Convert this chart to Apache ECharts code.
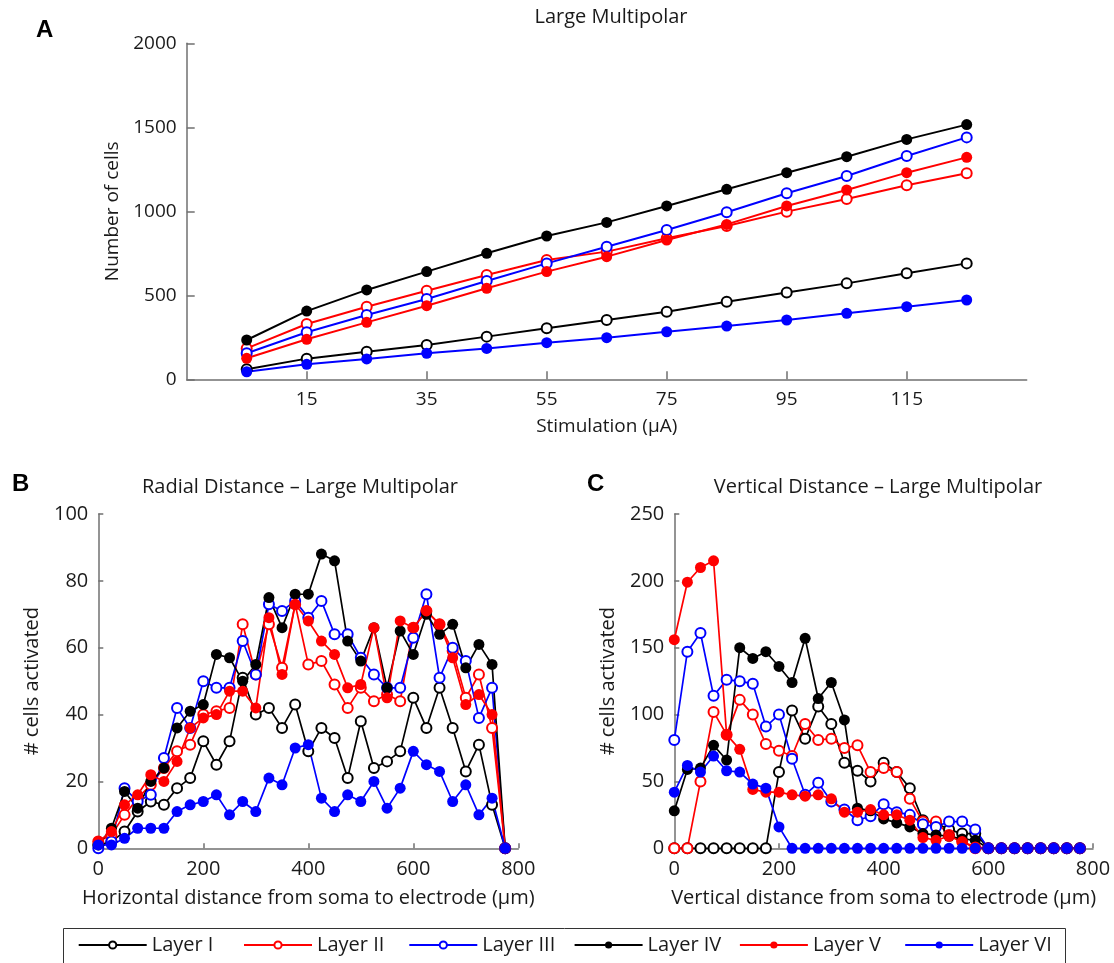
<!DOCTYPE html>
<html>
<head>
<meta charset="utf-8">
<script src="https://cdn.jsdelivr.net/npm/echarts@6/dist/echarts.min.js"></script>
<style>
  html, body { margin: 0; padding: 0; background: #fff; }
  #chart { width: 1114px; height: 963px; }
</style>
</head>
<body>
<div id="chart"></div>
<script>
// Layer names
const layers = ['Layer I', 'Layer II', 'Layer III', 'Layer IV', 'Layer V', 'Layer VI'];

// Panel A: stimulation current (µA) vs number of activated cells
const stimulation = [5, 15, 25, 35, 45, 55, 65, 75, 85, 95, 105, 115, 125];
const stimTicks = [15, 35, 55, 75, 95, 115];
const a_layerI   = [60, 123, 164, 204, 254, 304, 353, 402, 462, 516, 571, 631, 690];
const a_layerII  = [184, 329, 432, 527, 621, 710, 760, 839, 912, 998, 1073, 1155, 1226];
const a_layerIII = [155, 280, 383, 478, 585, 690, 789, 889, 994, 1107, 1210, 1329, 1440];
const a_layerIV  = [234, 406, 532, 641, 750, 853, 934, 1032, 1131, 1230, 1325, 1428, 1516];
const a_layerV   = [125, 238, 339, 438, 542, 641, 730, 829, 922, 1032, 1127, 1230, 1321];
const a_layerVI  = [45, 89, 121, 155, 184, 218, 248, 283, 317, 353, 393, 432, 472];

// Distance bins (µm) shared by panels B and C
const distance = [0, 25, 50, 75, 100, 125, 150, 175, 200, 225, 250, 275, 300, 325, 350, 375,
                  400, 425, 450, 475, 500, 525, 550, 575, 600, 625, 650, 675, 700, 725, 750, 775];

// Panel B: horizontal (radial) distance
const b_layerI   = [1, 2, 5, 11, 14, 13, 18, 21, 32, 25, 32, 51, 40, 42, 36, 43, 29, 36, 33, 21, 38, 24, 26, 29, 45, 36, 48, 36, 23, 31, 13, 0];
const b_layerII  = [2, 4, 10, 15, 19, 24, 29, 31, 40, 41, 42, 67, 52, 67, 54, 73, 55, 56, 49, 42, 48, 44, 46, 44, 66, 71, 67, 59, 45, 52, 36, 0];
const b_layerIII = [0, 2, 18, 14, 16, 27, 42, 36, 50, 48, 48, 62, 52, 73, 71, 74, 69, 74, 64, 64, 57, 52, 48, 48, 63, 76, 51, 60, 56, 39, 48, 0];
const b_layerIV  = [1, 6, 17, 12, 20, 24, 36, 41, 43, 58, 57, 50, 55, 75, 66, 76, 76, 88, 86, 62, 56, 66, 48, 65, 58, 70, 64, 67, 54, 61, 55, 0];
const b_layerV   = [2, 5, 13, 16, 22, 20, 26, 36, 39, 40, 47, 47, 42, 69, 52, 73, 68, 62, 58, 48, 49, 66, 45, 68, 66, 71, 67, 57, 43, 46, 40, 0];
const b_layerVI  = [1, 1, 3, 6, 6, 6, 11, 13, 14, 16, 10, 14, 11, 21, 19, 30, 31, 15, 11, 16, 14, 20, 12, 18, 29, 25, 23, 14, 19, 10, 15, 0];

// Panel C: vertical distance
const c_layerI   = [0, 0, 0, 0, 0, 0, 0, 0, 57, 103, 82, 106, 93, 64, 58, 50, 64, 57, 45, 21, 19, 14, 11, 11, 0, 0, 0, 0, 0, 0, 0, 0];
const c_layerII  = [0, 0, 50, 102, 85, 111, 100, 78, 73, 69, 93, 81, 82, 75, 77, 57, 60, 57, 37, 20, 20, 10, 5, 0, 0, 0, 0, 0, 0, 0, 0, 0];
const c_layerIII = [81, 147, 161, 114, 126, 125, 123, 91, 100, 67, 40, 49, 35, 29, 21, 24, 33, 27, 25, 18, 16, 20, 20, 14, 0, 0, 0, 0, 0, 0, 0, 0];
const c_layerIV  = [28, 59, 60, 77, 66, 150, 142, 147, 136, 124, 157, 112, 124, 96, 30, 28, 22, 19, 16, 11, 10, 9, 7, 6, 0, 0, 0, 0, 0, 0, 0, 0];
const c_layerV   = [156, 199, 210, 215, 85, 74, 44, 42, 42, 40, 39, 40, 37, 27, 27, 29, 25, 25, 21, 8, 6, 9, 5, 1, 0, 0, 0, 0, 0, 0, 0, 0];
const c_layerVI  = [42, 62, 57, 69, 58, 57, 48, 45, 16, 0, 0, 0, 0, 0, 0, 0, 0, 0, 0, 0, 0, 0, 0, 0, 0, 0, 0, 0, 0, 0, 0, 0];

const FONT = '"Open Sans", "Noto Sans", sans-serif';
const AXIS_GRAY = '#707070';
const TEXT = '#1a1a1a';
const colors = ['#000000', '#ff0000', '#0000ff', '#000000', '#ff0000', '#0000ff'];
const filled = [false, false, false, true, true, true];
const plain = v => String(v);

function makeSeries(panel, xs, sets, symSize, lineW) {
  return sets.map((vals, k) => ({
    type: 'line',
    name: layers[k],
    xAxisIndex: panel,
    yAxisIndex: panel,
    data: xs.map((x, i) => [x, vals[i]]),
    symbol: filled[k] ? 'circle' : 'emptyCircle',
    symbolSize: filled[k] ? symSize : symSize - 1,
    showSymbol: true,
    lineStyle: { color: colors[k], width: lineW },
    itemStyle: { color: colors[k], borderColor: colors[k], borderWidth: filled[k] ? 0 : 1.6 },
    emphasis: { disabled: true },
    silent: true,
    animation: false
  }));
}

function valueAxis(opts) {
  return Object.assign({
    type: 'value',
    splitLine: { show: false },
    axisLine: { show: true, onZero: false, lineStyle: { color: AXIS_GRAY, width: 1.5 } },
    axisTick: { show: true, inside: true, length: 5, lineStyle: { color: AXIS_GRAY, width: 1.5 } },
    axisLabel: { color: TEXT, fontFamily: FONT, fontSize: 20, margin: 10, formatter: plain },
    nameLocation: 'middle',
    nameTextStyle: { color: TEXT, fontFamily: FONT, fontSize: 20 }
  }, opts);
}

const grids = [
  { left: 186.7, top: 43.3, width: 840, height: 336 },
  { left: 98.3, top: 514, width: 420, height: 334.3 },
  { left: 674.3, top: 514, width: 418.7, height: 334.3 }
];

const xAxes = [
  valueAxis({
    gridIndex: 0, min: -5, max: 135, interval: 20,
    axisTick: { show: true, inside: true, length: 8, customValues: stimTicks, lineStyle: { color: AXIS_GRAY, width: 1.5 } },
    axisLabel: { color: TEXT, fontFamily: FONT, fontSize: 19, margin: 11, customValues: stimTicks, formatter: plain },
    name: 'Stimulation (\u00b5A)', nameGap: 38,
    nameTextStyle: { color: TEXT, fontFamily: FONT, fontSize: 19 }
  }),
  valueAxis({
    gridIndex: 1, min: 0, max: 800, interval: 200,
    axisLabel: { color: TEXT, fontFamily: FONT, fontSize: 20, margin: 11, formatter: plain },
    name: 'Horizontal distance from soma to electrode (\u00b5m)', nameGap: 40
  }),
  valueAxis({
    gridIndex: 2, min: 0, max: 800, interval: 200,
    axisLabel: { color: TEXT, fontFamily: FONT, fontSize: 20, margin: 11, formatter: plain },
    name: 'Vertical distance from soma to electrode (\u00b5m)', nameGap: 40
  })
];

const yAxes = [
  valueAxis({
    gridIndex: 0, min: 0, max: 2000, interval: 500,
    axisTick: { show: true, inside: true, length: 8, lineStyle: { color: AXIS_GRAY, width: 1.5 } },
    axisLabel: { color: TEXT, fontFamily: FONT, fontSize: 19, margin: 10, formatter: plain },
    name: 'Number of cells', nameGap: 62,
    nameTextStyle: { color: TEXT, fontFamily: FONT, fontSize: 19 }
  }),
  valueAxis({
    gridIndex: 1, min: 0, max: 100, interval: 20,
    name: '# cells activated', nameGap: 56
  }),
  valueAxis({
    gridIndex: 2, min: 0, max: 250, interval: 50,
    name: '# cells activated', nameGap: 56
  })
];

const series = [].concat(
  makeSeries(0, stimulation, [a_layerI, a_layerII, a_layerIII, a_layerIV, a_layerV, a_layerVI], 11, 2),
  makeSeries(1, distance, [b_layerI, b_layerII, b_layerIII, b_layerIV, b_layerV, b_layerVI], 11, 1.7),
  makeSeries(2, distance, [c_layerI, c_layerII, c_layerIII, c_layerIV, c_layerV, c_layerVI], 11, 1.7)
);

// One legend per entry so the columns sit at equal spacing
const legendStart = 77.7, legendStep = 165.3;
const legends = layers.map((n, k) => ({
  data: [n],
  left: legendStart + k * legendStep,
  top: 935,
  padding: 0,
  itemWidth: 68,
  itemHeight: 9,
  selectedMode: false,
  textStyle: { color: TEXT, fontFamily: FONT, fontSize: 20 }
}));

const titleStyle = { color: TEXT, fontFamily: FONT, fontSize: 20, fontWeight: 'normal' };
const letterStyle = { color: '#000', fontFamily: '"Liberation Sans", Arial, sans-serif', fontSize: 24, fontWeight: 'bold' };

const option = {
  backgroundColor: '#ffffff',
  animation: false,
  title: [
    { text: 'Large Multipolar', left: 611, top: 7, textAlign: 'center', padding: 0, textStyle: titleStyle },
    { text: 'Radial Distance \u2013 Large Multipolar', left: 300, top: 477, textAlign: 'center', padding: 0, textStyle: titleStyle },
    { text: 'Vertical Distance \u2013 Large Multipolar', left: 878, top: 477, textAlign: 'center', padding: 0, textStyle: titleStyle },
    { text: 'A', left: 36, top: 18, padding: 0, textStyle: letterStyle },
    { text: 'B', left: 12, top: 472, padding: 0, textStyle: letterStyle },
    { text: 'C', left: 587, top: 472, padding: 0, textStyle: letterStyle }
  ],
  legend: legends,
  grid: grids,
  xAxis: xAxes,
  yAxis: yAxes,
  series: series,
  graphic: [{
    type: 'rect',
    silent: true,
    shape: { x: 63.5, y: 928.5, width: 1002, height: 60 },
    style: { fill: 'none', stroke: '#333333', lineWidth: 1 }
  }]
};

const chart = echarts.init(document.getElementById('chart'), null, { renderer: 'canvas' });
chart.setOption(option);
</script>
</body>
</html>
